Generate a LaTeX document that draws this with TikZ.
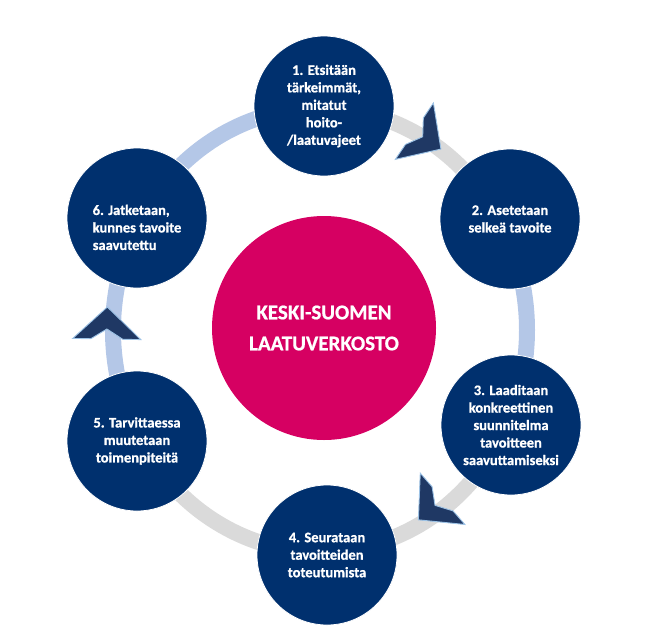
\documentclass[tikz,border=0pt]{standalone}
\usepackage{fontspec}
\setmainfont{Carlito}[BoldFeatures={FakeBold=0.8}]
\usepackage{tikz}
\usetikzlibrary{calc}
\definecolor{navy}{RGB}{0,48,110}
\definecolor{hubpink}{RGB}{214,0,98}
\definecolor{chevfill}{RGB}{31,56,100}
\definecolor{chevrim}{RGB}{157,195,230}
\definecolor{ringblue}{RGB}{180,199,231}
\definecolor{ringgray}{RGB}{218,218,218}
\tikzset{
  stepc/.style={circle, fill=navy, draw=white, line width=0.8pt, minimum size=140pt,
    inner sep=0pt, align=center, text=white,
    font=\fontsize{14.5}{17.5}\selectfont\bfseries},
  hubc/.style={circle, fill=hubpink, minimum size=224pt, inner sep=0pt, align=center,
    text=white, font=\fontsize{21}{31}\selectfont\bfseries},
  hoop/.style={x radius=207, y radius=222},
  bandb/.style={draw=ringblue, line width=16pt},
  bandg/.style={draw=ringgray, line width=16pt},
  chevron/.pic={\filldraw[fill=chevfill, draw=chevrim, line width=0.9pt]
    (18,0) -- (-14,34) -- (-14,16) -- (-4,0) -- (-14,-16) -- (-14,-34) -- cycle;}
}
\begin{document}
\begin{tikzpicture}[x=1pt, y=-1pt]
\useasboundingbox (0,0) rectangle (650,635);
% ---------- ring (drawn first, circles on top) ----------
\coordinate (ctr) at (320,330);
\coordinate (r1) at ($(ctr)+(270:207 and 222)$);
\coordinate (r2) at ($(ctr)+(330:207 and 222)$);
\coordinate (r3) at ($(ctr)+(30:207 and 222)$);
\coordinate (r5) at ($(ctr)+(150:207 and 222)$);
\draw[bandb] (r5) arc[hoop, start angle=150, end angle=270];
\draw[bandg] (r1) arc[hoop, start angle=270, end angle=330];
\draw[bandb] (r2) arc[hoop, start angle=330, end angle=390];
\draw[bandg] (r3) arc[hoop, start angle=30, end angle=150];
% ---------- centre ----------
\node[hubc] (hub) at (324,328) {KESKI-SUOMEN\\LAATUVERKOSTO};
% ---------- steps ----------
\node[stepc] (s1) at (324,106) {1. Etsitään\\tärkeimmät,\\mitatut\\hoito-\\/laatuvajeet};
\node[stepc] (s2) at (510,219) {2. Asetetaan\\selkeä tavoite};
\node[stepc] (s3) at (511,425) {3. Laaditaan\\konkreettinen\\suunnitelma\\tavoitteen\\saavuttamiseksi};
\node[stepc] (s4) at (327,555) {4. Seurataan\\tavoitteiden\\toteutumista};
\node[stepc] (s5) at (137,441) {5. Tarvittaessa\\muutetaan\\toimenpiteitä};
\node[stepc, align=left] (s6) at (137,218) {\rule{0pt}{29pt}6. Jatketaan,\\kunnes tavoite\\saavutettu};
% ---------- arrow heads on the ring ----------
\pic[rotate=-34] (chA) at (426,139) {chevron};
\pic[rotate=-139] (chC) at (432,508) {chevron};
\pic[rotate=89] (chB) at (107,325) {chevron};
\end{tikzpicture}
\end{document}
